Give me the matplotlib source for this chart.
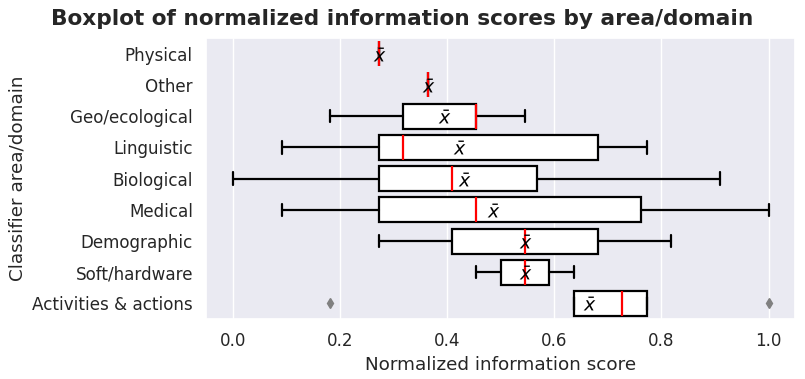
import matplotlib
matplotlib.use("Agg")
import matplotlib.pyplot as plt
import seaborn as sns

# areas, top to bottom
categories = ["Physical", "Other", "Geo/ecological", "Linguistic", "Biological",
              "Medical", "Demographic", "Soft/hardware", "Activities & actions"]

# box statistics
whislo = [0.2727, 0.3636, 0.1818, 0.0909, 0.0, 0.0909, 0.2727, 0.4545, 0.6364]
q1 = [0.2727, 0.3636, 0.3182, 0.2727, 0.2727, 0.2727, 0.4091, 0.5000, 0.6364]
med = [0.2727, 0.3636, 0.4545, 0.3182, 0.4091, 0.4545, 0.5455, 0.5455, 0.7273]
q3 = [0.2727, 0.3636, 0.4545, 0.6818, 0.5682, 0.7614, 0.6818, 0.5909, 0.7727]
whishi = [0.2727, 0.3636, 0.5455, 0.7727, 0.9091, 1.0, 0.8182, 0.6364, 0.7727]
means = [0.2727, 0.3636, 0.395, 0.423, 0.432, 0.486, 0.5455, 0.5455, 0.664]
fliers = [[], [], [], [], [], [], [], [], [0.1818, 1.0]]

sns.set_theme(style="darkgrid", font_scale=1.1)

stats = []
for i, c in enumerate(categories):
    stats.append(dict(label=c, whislo=whislo[i], q1=q1[i], med=med[i], q3=q3[i],
                      whishi=whishi[i], mean=means[i], fliers=fliers[i]))

fig, ax = plt.subplots(figsize=(8.05, 3.79), dpi=100)
ax.bxp(stats, positions=range(len(categories)), vert=False, widths=0.8,
       patch_artist=True, showmeans=True,
       boxprops=dict(facecolor="white", edgecolor="black", linewidth=1.6),
       whiskerprops=dict(color="black", linewidth=1.6),
       capprops=dict(color="black", linewidth=1.6),
       medianprops=dict(color="red", linewidth=1.6),
       meanprops=dict(marker="$\\bar{x}$", markerfacecolor="black",
                      markeredgecolor="black", markeredgewidth=0, markersize=10),
       flierprops=dict(marker="d", markerfacecolor="gray", markeredgecolor="gray",
                       markersize=5))
ax.set_ylim(len(categories) - 0.5, -0.5)
ax.set_xlim(-0.05, 1.05)
ax.set_xticks([0.0, 0.2, 0.4, 0.6, 0.8, 1.0])
ax.set_xlabel("Normalized information score")
ax.set_ylabel("Classifier area/domain")
ax.grid(axis="y", visible=False)
fig.suptitle("Boxplot of normalized information scores by area/domain",
             fontsize=15.6, fontweight="bold", y=0.975)
fig.subplots_adjust(left=0.256, right=0.988, top=0.9, bottom=0.158)
fig.savefig("out.png")
